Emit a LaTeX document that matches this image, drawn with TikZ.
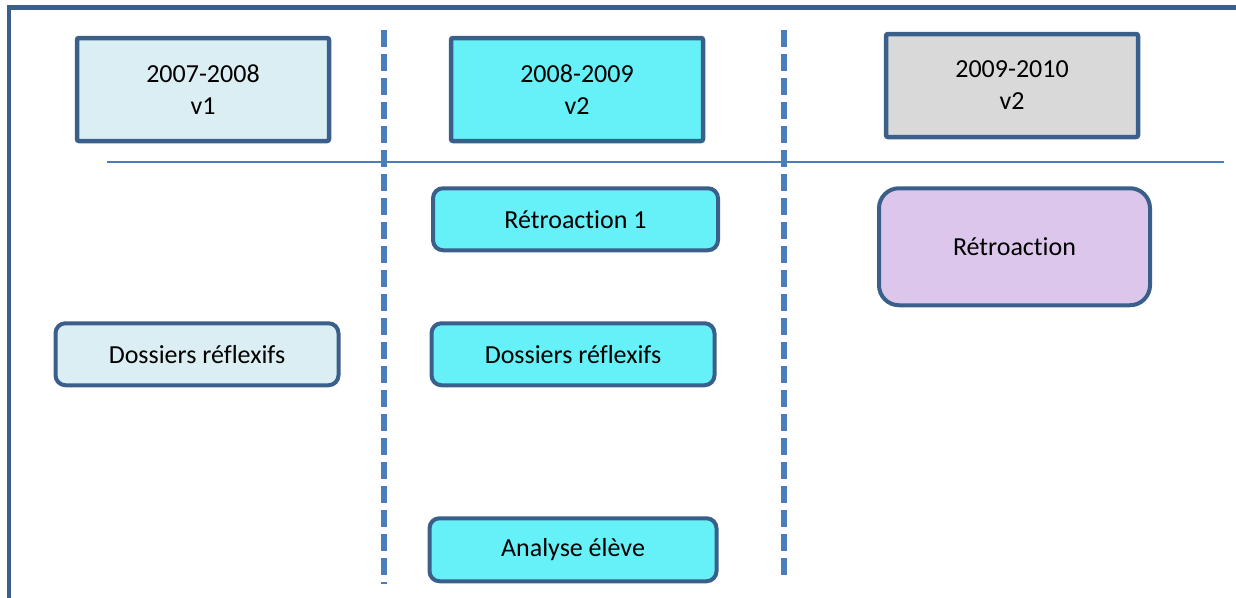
\documentclass[tikz,border=0pt]{standalone}
\usepackage{fontspec}
\setmainfont[Ligatures=NoCommon]{Carlito}
\usepackage{tikz}
\usetikzlibrary{positioning}
\definecolor{frameblue}{HTML}{3B5E8B}
\definecolor{boxblue}{HTML}{3A5F8B}
\definecolor{lineblue}{HTML}{4A7EBB}
\definecolor{paleblue}{HTML}{DBEEF4}
\definecolor{brightcyan}{HTML}{66F1F8}
\definecolor{paper}{HTML}{D9D9D9}
\definecolor{lavender}{HTML}{DCC6EC}

\begin{document}
\begin{tikzpicture}[x=1pt,y=-1pt,
            every node/.style={rectangle,draw=boxblue,text=black,align=center,font=\fontsize{26}{32}\selectfont},
            year box/.style={line width=4.5pt,minimum width=252pt,minimum height=103pt,rounded corners=2pt},
            task box/.style={line width=4pt,minimum width=283pt,minimum height=62pt,rounded corners=10pt},
            feedback box/.style={line width=4pt,minimum width=271pt,minimum height=117pt,rounded corners=20pt},
            rule line/.style={draw=lineblue,line width=1.5pt},
            year sep/.style={draw=lineblue,line width=5.5pt,dash pattern=on 17pt off 7pt}
        ]
        \useasboundingbox (0,0) rectangle (1236,597);
        \draw[frameblue,line width=4.5pt] (9,7.5) rectangle (1250,620);

        \coordinate (sep 1 top) at (384,30);
        \coordinate (sep 1 bottom) at (384,584);
        \coordinate (sep 2 top) at (784,30);
        \coordinate (sep 2 bottom) at (784,577);
        \coordinate (rule west) at (107,162);
        \coordinate (rule east) at (1224,162);
        \draw[year sep] (sep 1 top) -- (sep 1 bottom);
        \draw[year sep] (sep 2 top) -- (sep 2 bottom);
        \draw[rule line] (rule west) -- (rule east);

        \node [year box,fill=paleblue] (year 1) at (203,89.5) {2007-2008\\v1};
        \node [year box,fill=brightcyan] (year 2) at (577,89.5) {2008-2009\\v2};
        \node [year box,fill=paper] (year 3) at (1012,85.5) {2009-2010\\v2};
        \node [task box,fill=brightcyan,below=43pt of year 2,xshift=-1.5pt,minimum width=285pt] (feedback 1) {Rétroaction 1};
        \node [task box,fill=brightcyan,below=69pt of feedback 1,xshift=-2.5pt] (files 2) {Dossiers réflexifs};
        \node [task box,fill=brightcyan,below=129pt of files 2,minimum width=287pt,minimum height=63pt] (analysis) {Analyse élève};
        \node [task box,fill=paleblue,left=89pt of files 2] (files 1) {Dossiers réflexifs};
        \node [feedback box,fill=lavender,below=47pt of year 3,xshift=2.5pt] (feedback 2) {Rétroaction};
    \end{tikzpicture}
\end{document}
